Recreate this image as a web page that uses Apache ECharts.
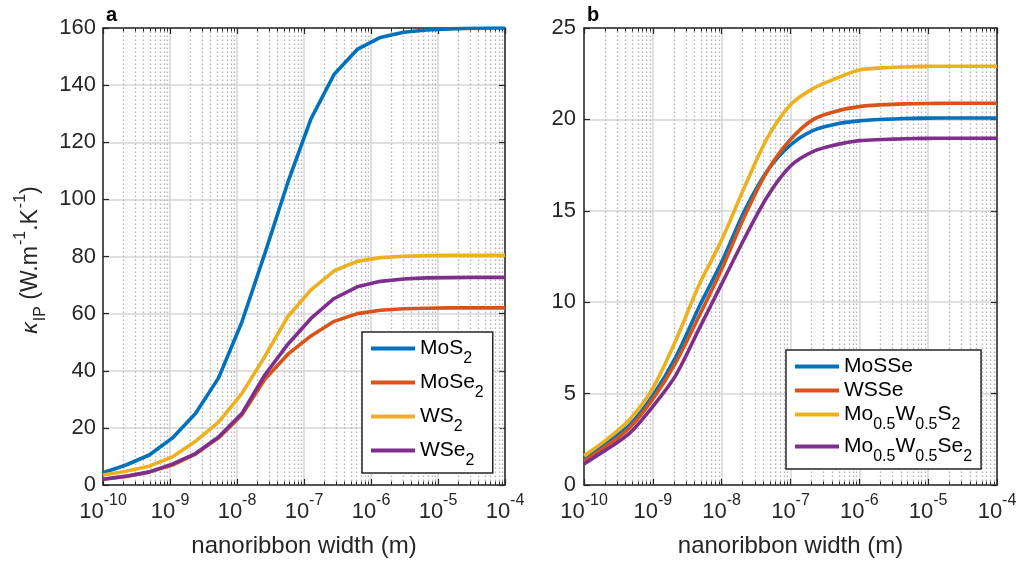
<!DOCTYPE html>
<html>
<head>
<meta charset="utf-8">
<style>
  html, body { margin: 0; padding: 0; background: #ffffff; }
  #chart { width: 1023px; height: 563px; }
</style>
<script src="https://cdn.jsdelivr.net/npm/echarts@6/dist/echarts.min.js"></script>
</head>
<body>
<div id="chart"></div>
<script>
// Nanoribbon widths (m) sampled for panel a (about 0.345 decade apart)
const widthsA = [1e-10, 2.21e-10, 4.90e-10, 1.08e-9, 2.40e-9, 5.31e-9, 1.18e-8, 2.60e-8,
  5.75e-8, 1.27e-7, 2.82e-7, 6.24e-7, 1.38e-6, 3.05e-6, 6.76e-6, 1.50e-5, 3.31e-5, 7.33e-5, 1e-4];
// In-plane thermal conductivity (W m^-1 K^-1), panel a
const kMoS2  = [4.3, 7.0, 10.5, 16.4, 25.0, 37.5, 57.0, 81.0, 106.0, 128.2, 143.8, 152.5, 156.7, 158.5, 159.3, 159.7, 159.9, 160.0, 160.0];
const kMoSe2 = [2.0, 3.0, 4.5, 7.0, 10.8, 16.5, 24.5, 37.0, 45.8, 52.2, 57.3, 60.0, 61.2, 61.7, 61.9, 62.0, 62.0, 62.0, 62.0];
const kWS2   = [3.5, 4.8, 6.6, 9.8, 15.3, 22.0, 32.0, 45.0, 59.0, 68.3, 75.0, 78.3, 79.6, 80.1, 80.3, 80.4, 80.4, 80.4, 80.4];
const kWSe2  = [2.0, 3.1, 4.6, 7.3, 11.0, 16.8, 25.0, 38.5, 49.3, 58.3, 65.3, 69.4, 71.3, 72.1, 72.5, 72.6, 72.7, 72.7, 72.7];

// Nanoribbon widths (m) for panel b (third-of-a-decade steps)
const widthsB = [1e-10, 2.15e-10, 4.64e-10, 1e-9, 2.15e-9, 4.64e-9, 1e-8, 2.15e-8, 4.64e-8,
  1e-7, 2.15e-7, 4.64e-7, 1e-6, 2.15e-6, 4.64e-6, 1e-5, 2.15e-5, 4.64e-5, 1e-4];
const kMoSSe    = [1.35, 2.3, 3.3, 4.9, 7.0, 9.7, 12.2, 15.0, 17.2, 18.6, 19.4, 19.75, 19.92, 20.0, 20.05, 20.07, 20.08, 20.08, 20.08];
const kWSSe     = [1.3, 2.15, 3.15, 4.7, 6.7, 9.2, 11.8, 14.7, 17.2, 18.9, 20.0, 20.45, 20.7, 20.8, 20.85, 20.87, 20.88, 20.88, 20.88];
const kMoWS2    = [1.6, 2.5, 3.6, 5.3, 7.9, 10.9, 13.4, 16.3, 19.0, 20.8, 21.7, 22.25, 22.7, 22.82, 22.87, 22.9, 22.91, 22.91, 22.91];
const kMoWSe2   = [1.15, 1.95, 2.85, 4.3, 6.0, 8.5, 11.0, 13.5, 15.8, 17.45, 18.25, 18.62, 18.84, 18.9, 18.94, 18.96, 18.97, 18.97, 18.97];

// Axis ranges and tick settings
const xMin = 1e-10, xMax = 1e-4;
const yRangeA = [0, 160], yStepA = 20;
const yRangeB = [0, 25],  yStepB = 5;
const decadeExponents = [-10, -9, -8, -7, -6, -5];
const minorMultipliers = [2, 3, 4, 5, 6, 7, 8, 9];

// Series names and their typeset legend labels
const namesA = ['MoS2', 'MoSe2', 'WS2', 'WSe2'];
const namesB = ['MoSSe', 'WSSe', 'Mo0.5W0.5S2', 'Mo0.5W0.5Se2'];
const legendLabels = {
  'MoS2': '{n|MoS}{s|2}',
  'MoSe2': '{n|MoSe}{s|2}',
  'WS2': '{n|WS}{s|2}',
  'WSe2': '{n|WSe}{s|2}',
  'MoSSe': '{n|MoSSe}',
  'WSSe': '{n|WSSe}',
  'Mo0.5W0.5S2': '{n|Mo}{s|0.5}{n|W}{s|0.5}{n|S}{s|2}',
  'Mo0.5W0.5Se2': '{n|Mo}{s|0.5}{n|W}{s|0.5}{n|Se}{s|2}'
};

const colors = ['#0072BD', '#D95319', '#EDB120', '#7E2F8E'];
const FONT = "'Liberation Sans', Arial, Helvetica, sans-serif";
const INK = '#262626';

const minorValues = [];
decadeExponents.forEach(function (e) {
  minorMultipliers.forEach(function (m) { minorValues.push(m * Math.pow(10, e)); });
});

function pairs(xs, ys) { return xs.map(function (x, i) { return [x, ys[i]]; }); }

function expLabel(v) {
  const e = Math.round(Math.log10(v));
  return '{m|10}{e|' + e + '}';
}

const tickRich = {
  m: { fontSize: 22, fontFamily: FONT, color: INK, lineHeight: 22, padding: [8, 0, 0, 0], verticalAlign: 'top' },
  e: { fontSize: 16, fontFamily: FONT, color: INK, lineHeight: 16, verticalAlign: 'top' }
};

function bottomX(gridIndex) {
  return {
    type: 'log', logBase: 10, gridIndex: gridIndex, min: xMin, max: xMax, position: 'bottom',
    name: 'nanoribbon width (m)', nameLocation: 'middle', nameGap: 49,
    nameTextStyle: { fontSize: 24, fontFamily: FONT, color: INK },
    axisLine: { show: true, onZero: false, lineStyle: { color: INK, width: 1.5 } },
    axisTick: { show: true, inside: true, length: 6, lineStyle: { color: INK, width: 1.2 } },
    minorTick: { show: false },
    axisLabel: { formatter: expLabel, margin: 8, rich: tickRich, color: INK },
    splitLine: { show: true, lineStyle: { color: '#d6d6d6', width: 1.5 } }
  };
}
function topX(gridIndex) {
  return {
    type: 'log', logBase: 10, gridIndex: gridIndex, min: xMin, max: xMax, position: 'top',
    axisLine: { show: true, onZero: false, lineStyle: { color: INK, width: 1.5 } },
    axisTick: { show: true, inside: true, length: 6, lineStyle: { color: INK, width: 1.2 } },
    axisLabel: { show: false }, splitLine: { show: false }
  };
}
function leftY(gridIndex, range, step, margin) {
  return {
    type: 'value', gridIndex: gridIndex, min: range[0], max: range[1], interval: step, position: 'left',
    axisLine: { show: true, onZero: false, lineStyle: { color: INK, width: 1.5 } },
    axisTick: { show: true, inside: true, length: 6, lineStyle: { color: INK, width: 1.2 } },
    axisLabel: { fontSize: 22, fontFamily: FONT, color: INK, margin: margin },
    splitLine: { show: true, lineStyle: { color: '#d6d6d6', width: 1.5 } }
  };
}
function rightY(gridIndex, range, step) {
  return {
    type: 'value', gridIndex: gridIndex, min: range[0], max: range[1], interval: step, position: 'right',
    axisLine: { show: true, onZero: false, lineStyle: { color: INK, width: 1.5 } },
    axisTick: { show: true, inside: true, length: 6, lineStyle: { color: INK, width: 1.2 } },
    axisLabel: { show: false }, splitLine: { show: false }
  };
}

// Dotted minor grid lines at 2..9 of each decade, with short inward ticks top and bottom
function minorGrid(xAxisIndex, yAxisIndex, range) {
  return {
    type: 'custom', xAxisIndex: xAxisIndex, yAxisIndex: yAxisIndex, silent: true, z: 1,
    data: minorValues.map(function (v) { return [v, range[0]]; }),
    encode: { x: 0, y: 1 },
    renderItem: function (params, api) {
      const v = api.value(0);
      const b = api.coord([v, range[0]]);
      const t = api.coord([v, range[1]]);
      const x = Math.round(b[0]) + 0.5;
      return {
        type: 'group',
        children: [
          { type: 'line', shape: { x1: x, y1: b[1], x2: x, y2: t[1] },
            style: { stroke: '#b4b4b4', lineWidth: 1.4, lineDash: [1.6, 2.4] } },
          { type: 'line', shape: { x1: x, y1: b[1], x2: x, y2: b[1] - 3.5 },
            style: { stroke: INK, lineWidth: 1 } },
          { type: 'line', shape: { x1: x, y1: t[1], x2: x, y2: t[1] + 3.5 },
            style: { stroke: INK, lineWidth: 1 } }
        ]
      };
    }
  };
}

function curve(name, xs, ys, color, xi, yi, smooth) {
  return {
    type: 'line', name: name, xAxisIndex: xi, yAxisIndex: yi, data: pairs(xs, ys),
    showSymbol: false, symbol: 'none', smooth: smooth,
    lineStyle: { color: color, width: 3.6 }, itemStyle: { color: color }, z: 3
  };
}

const legendRich = {
  n: { fontSize: 21, fontFamily: FONT, color: '#000', lineHeight: 21, verticalAlign: 'top' },
  s: { fontSize: 16, fontFamily: FONT, color: '#000', lineHeight: 16, padding: [13, 0, 0, 0], verticalAlign: 'top' }
};

function legendBox(names, left, top, gap) {
  return {
    data: names, orient: 'vertical', left: left, top: top,
    icon: 'rect', itemWidth: 44, itemHeight: 4, itemGap: gap,
    padding: [6, 9, 4, 9], backgroundColor: '#fff', borderColor: INK, borderWidth: 1.5,
    selectedMode: false,
    formatter: function (name) { return legendLabels[name]; },
    textStyle: { fontSize: 21, fontFamily: FONT, color: '#000', rich: legendRich }
  };
}

const chart = echarts.init(document.getElementById('chart'), null, { renderer: 'canvas' });

chart.setOption({
  animation: false,
  backgroundColor: '#ffffff',
  grid: [
    { left: 103, top: 28, width: 402, height: 460 },
    { left: 584, top: 28, width: 413, height: 460 }
  ],
  xAxis: [bottomX(0), topX(0), bottomX(1), topX(1)],
  yAxis: [leftY(0, yRangeA, yStepA, 7), rightY(0, yRangeA, yStepA), leftY(1, yRangeB, yStepB, 8), rightY(1, yRangeB, yStepB)],
  legend: [legendBox(namesA, 362, 332, 5), legendBox(namesB, 786, 350, 3)],
  series: [
    minorGrid(0, 0, yRangeA),
    minorGrid(2, 2, yRangeB),
    curve('MoS2',  widthsA, kMoS2,  colors[0], 0, 0, false),
    curve('MoSe2', widthsA, kMoSe2, colors[1], 0, 0, false),
    curve('WS2',   widthsA, kWS2,   colors[2], 0, 0, false),
    curve('WSe2',  widthsA, kWSe2,  colors[3], 0, 0, false),
    curve('MoSSe',        widthsB, kMoSSe,  colors[0], 2, 2, 0.3),
    curve('WSSe',         widthsB, kWSSe,   colors[1], 2, 2, 0.3),
    curve('Mo0.5W0.5S2',  widthsB, kMoWS2,  colors[2], 2, 2, 0.3),
    curve('Mo0.5W0.5Se2', widthsB, kMoWSe2, colors[3], 2, 2, 0.3)
  ],
  graphic: [
    { type: 'text', left: 106, top: 5,
      style: { text: 'a', fontSize: 20, fontWeight: 'bold', fontFamily: FONT, fill: '#000' } },
    { type: 'text', left: 587, top: 5,
      style: { text: 'b', fontSize: 20, fontWeight: 'bold', fontFamily: FONT, fill: '#000' } },
    { type: 'text', x: 24, y: 260, rotation: Math.PI / 2,
      style: {
        text: '{k|κ}{sub|IP}{n| (W.m}{sup|-1}{n|.K}{sup|-1}{n|)}',
        align: 'center', verticalAlign: 'middle',
        rich: {
          k: { fontSize: 23, fontFamily: FONT, fontStyle: 'italic', fill: INK, lineHeight: 23, padding: [7, 0, 0, 0], verticalAlign: 'top' },
          n: { fontSize: 23, fontFamily: FONT, fill: INK, lineHeight: 23, padding: [7, 0, 0, 0], verticalAlign: 'top' },
          sup: { fontSize: 16, fontFamily: FONT, fill: INK, lineHeight: 16, padding: [0, 0, 0, 1], verticalAlign: 'top' },
          sub: { fontSize: 16, fontFamily: FONT, fill: INK, lineHeight: 16, padding: [20, 0, 0, 1], verticalAlign: 'top' }
        }
      } }
  ]
});
</script>
</body>
</html>
